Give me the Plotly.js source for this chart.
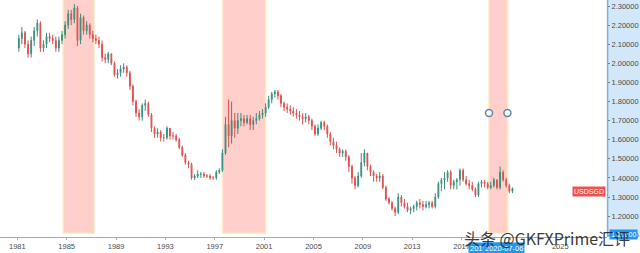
<!DOCTYPE html>
<html><head><meta charset="utf-8">
<script src="https://cdn.plot.ly/plotly-3.0.1.min.js"></script>
<style>html,body{margin:0;padding:0;background:#fff;}#chart{width:640px;height:253px;}</style>
</head><body><div id="chart"></div>
<script>
// Quarterly USDSGD candles, 1981Q1 .. 2021Q1
const firstYear = 1981;
const opens = [
 2.08,2.13,2.16,2.10, 2.05,2.12,2.17,2.21, 2.08,2.10,2.14,2.13, 2.12,2.08,2.12,2.15,
 2.20,2.26,2.23,2.29, 2.12,2.24,2.17,2.20, 2.15,2.13,2.12,2.10, 2.03,2.02,2.05,2.00,
 1.94,1.95,1.97,1.98, 1.95,1.88,1.80,1.74, 1.72,1.78,1.79,1.73, 1.66,1.63,1.64,1.61,
 1.61,1.66,1.62,1.62, 1.60,1.56,1.52,1.48, 1.47,1.40,1.41,1.42, 1.42,1.41,1.41,1.40,
 1.40,1.43,1.44,1.53, 1.68,1.62,1.70,1.66, 1.70,1.71,1.69,1.71, 1.68,1.70,1.71,1.73,
 1.74,1.77,1.81,1.84, 1.85,1.83,1.79,1.77, 1.76,1.75,1.74,1.73, 1.72,1.71,1.72,1.70,
 1.67,1.63,1.66,1.69, 1.67,1.63,1.59,1.57, 1.55,1.53,1.54,1.51, 1.46,1.40,1.36,1.41,
 1.48,1.53,1.46,1.43, 1.41,1.40,1.41,1.35, 1.29,1.27,1.24,1.22, 1.30,1.27,1.25,1.23,
 1.24,1.25,1.27,1.26, 1.25,1.26,1.27,1.25, 1.30,1.37,1.39,1.40, 1.43,1.36,1.38,1.39,
 1.44,1.39,1.37,1.36, 1.34,1.31,1.37,1.38, 1.37,1.35,1.36,1.39, 1.35,1.43,1.39,1.36,
 1.33];
const highs = [
 2.15,2.19,2.17,2.12, 2.14,2.19,2.23,2.22, 2.12,2.16,2.16,2.15, 2.14,2.14,2.17,2.22,
 2.28,2.28,2.31,2.30, 2.26,2.25,2.22,2.21, 2.17,2.15,2.14,2.12, 2.05,2.06,2.05,2.01,
 1.97,1.99,2.00,1.99, 1.96,1.89,1.81,1.76, 1.79,1.81,1.80,1.74, 1.67,1.66,1.65,1.63,
 1.67,1.66,1.64,1.63, 1.61,1.57,1.53,1.49, 1.48,1.42,1.44,1.43, 1.43,1.42,1.42,1.41,
 1.44,1.45,1.55,1.72, 1.81,1.80,1.74,1.74, 1.74,1.73,1.73,1.73, 1.72,1.74,1.75,1.76,
 1.79,1.83,1.85,1.86, 1.86,1.84,1.80,1.79, 1.78,1.77,1.76,1.75, 1.74,1.74,1.73,1.71,
 1.68,1.68,1.70,1.70, 1.68,1.64,1.61,1.59, 1.56,1.55,1.55,1.52, 1.47,1.41,1.43,1.53,
 1.55,1.53,1.47,1.44, 1.42,1.43,1.42,1.36, 1.30,1.28,1.25,1.32, 1.31,1.29,1.27,1.25,
 1.26,1.28,1.29,1.28, 1.28,1.28,1.28,1.32, 1.38,1.40,1.43,1.44, 1.44,1.39,1.40,1.45,
 1.45,1.41,1.39,1.38, 1.35,1.38,1.39,1.39, 1.38,1.38,1.40,1.39, 1.46,1.44,1.40,1.37,
 1.35];
const lows = [
 2.06,2.10,2.08,2.03, 2.03,2.09,2.14,2.06, 2.06,2.08,2.11,2.10, 2.06,2.06,2.10,2.13,
 2.18,2.20,2.21,2.09, 2.10,2.15,2.15,2.13, 2.11,2.10,2.08,2.01, 2.00,2.00,1.99,1.93,
 1.92,1.93,1.95,1.93, 1.86,1.78,1.72,1.70, 1.70,1.75,1.72,1.64, 1.61,1.61,1.59,1.59,
 1.60,1.60,1.60,1.59, 1.55,1.51,1.47,1.45, 1.39,1.39,1.40,1.40, 1.40,1.40,1.39,1.39,
 1.39,1.42,1.43,1.52, 1.56,1.58,1.61,1.63, 1.67,1.67,1.68,1.65, 1.65,1.68,1.70,1.71,
 1.72,1.76,1.79,1.82, 1.81,1.77,1.75,1.74, 1.73,1.72,1.71,1.70, 1.68,1.69,1.68,1.65,
 1.62,1.62,1.65,1.65, 1.61,1.57,1.55,1.53, 1.51,1.51,1.49,1.43, 1.37,1.34,1.35,1.40,
 1.46,1.44,1.41,1.38, 1.38,1.38,1.34,1.28, 1.26,1.23,1.20,1.21, 1.25,1.24,1.22,1.21,
 1.22,1.23,1.24,1.23, 1.24,1.24,1.24,1.24, 1.29,1.33,1.34,1.38, 1.34,1.34,1.34,1.36,
 1.38,1.36,1.34,1.33, 1.30,1.30,1.35,1.35, 1.34,1.34,1.35,1.34, 1.34,1.38,1.35,1.32,
 1.32];
const closes = [
 2.13,2.16,2.10,2.05, 2.12,2.17,2.21,2.08, 2.10,2.14,2.13,2.12, 2.08,2.12,2.15,2.20,
 2.26,2.23,2.29,2.12, 2.24,2.17,2.20,2.15, 2.13,2.12,2.10,2.03, 2.02,2.05,2.00,1.94,
 1.95,1.97,1.98,1.95, 1.88,1.80,1.74,1.72, 1.78,1.79,1.73,1.66, 1.63,1.64,1.61,1.61,
 1.66,1.62,1.62,1.60, 1.56,1.52,1.48,1.47, 1.40,1.41,1.42,1.42, 1.41,1.41,1.40,1.40,
 1.43,1.44,1.53,1.68, 1.62,1.70,1.66,1.70, 1.71,1.69,1.71,1.68, 1.70,1.71,1.73,1.74,
 1.77,1.81,1.84,1.85, 1.83,1.79,1.77,1.76, 1.75,1.74,1.73,1.72, 1.71,1.72,1.70,1.67,
 1.63,1.66,1.69,1.67, 1.63,1.59,1.57,1.55, 1.53,1.54,1.51,1.46, 1.40,1.36,1.41,1.48,
 1.53,1.46,1.43,1.41, 1.40,1.41,1.35,1.29, 1.27,1.24,1.22,1.30, 1.27,1.25,1.23,1.24,
 1.25,1.27,1.26,1.25, 1.26,1.27,1.25,1.30, 1.37,1.39,1.40,1.43, 1.36,1.38,1.39,1.44,
 1.39,1.37,1.36,1.34, 1.31,1.37,1.38,1.37, 1.35,1.36,1.39,1.35, 1.43,1.39,1.36,1.33,
 1.345];
const symbolName = 'USDSGD';
const lastPrice = 1.327;
const bandStart = ['1984-09-25', '1997-08-25', '2019-03-25'];
const bandEnd   = ['1987-03-20', '2001-02-06', '2020-09-20'];
const handleLevel = 1.74;
const dateLabels = ['2019-03-25', '2020-07-06'];
const watermark = '头条 @GKFXPrime汇评';

// quarter mid-point dates for the candles
const monthsMid = ['02', '05', '08', '11'];
const dates = closes.map((_, i) => (firstYear + Math.floor(i / 4)) + '-' + monthsMid[i % 4] + '-15');

const candles = {
  type: 'candlestick', x: dates, open: opens, high: highs, low: lows, close: closes,
  increasing: {line: {color: '#3a8f80', width: 1}, fillcolor: '#3a8f80'},
  decreasing: {line: {color: '#de5250', width: 1}, fillcolor: '#de5250'},
  whiskerwidth: 0, hoverinfo: 'skip', showlegend: false
};
const handles = {
  type: 'scatter', mode: 'markers', x: [bandStart[2], bandEnd[2]], y: [handleLevel, handleLevel],
  marker: {symbol: 'circle', size: 7, color: '#ffffff', line: {color: '#5b86b8', width: 1.5}},
  hoverinfo: 'skip', showlegend: false
};

const shapes = [];
// right price-scale panel
shapes.push({type: 'rect', xref: 'paper', yref: 'paper', x0: 1, x1: 1.06, y0: 0, y1: 1,
  fillcolor: '#d3e7fa', line: {width: 0}, layer: 'below'});
shapes.push({type: 'line', xref: 'paper', yref: 'paper', x0: 1.001, x1: 1.001, y0: 0, y1: 1,
  line: {color: '#7fb0dd', width: 1.5}, layer: 'above'});
for (let i = 0; i < bandStart.length; i++) {
  shapes.push({type: 'rect', xref: 'x', yref: 'y', x0: bandStart[i], x1: bandEnd[i], y0: 1.111, y1: 2.6,
    fillcolor: 'rgba(255,150,140,0.45)', line: {color: 'rgba(255,225,170,0.55)', width: 2}, layer: 'below'});
}

const annotations = [
  {xref: 'paper', yref: 'y', x: 0.998, y: lastPrice, xanchor: 'right', yanchor: 'middle',
   text: symbolName, showarrow: false, bgcolor: '#ef5350', borderpad: 1,
   font: {family: 'Liberation Sans', size: 7, color: '#ffffff'}},
  {xref: 'x', yref: 'paper', x: dateLabels[0], y: -0.02, xanchor: 'center', yanchor: 'top',
   text: dateLabels[0], showarrow: false, bgcolor: '#2196f3', borderpad: 1,
   font: {family: 'Liberation Sans', size: 7.5, color: '#ffffff'}},
  {xref: 'x', yref: 'paper', x: '2020-06-20', y: -0.02, xanchor: 'center', yanchor: 'top',
   text: dateLabels[1], showarrow: false, bgcolor: '#2196f3', borderpad: 1,
   font: {family: 'Liberation Sans', size: 7.5, color: '#ffffff'}},
  {xref: 'paper', yref: 'y', x: 1.004, y: 1.105, xanchor: 'left', yanchor: 'middle',
   text: '1.10000', showarrow: false, bgcolor: '#2196f3', borderpad: 1,
   font: {family: 'Liberation Sans', size: 7, color: '#ffffff'}},
  {xref: 'paper', yref: 'paper', x: 1.042, y: -0.005, xanchor: 'right', yanchor: 'middle',
   text: watermark, showarrow: false,
   font: {family: 'Noto Sans CJK SC', size: 16, color: 'rgba(35,35,35,0.9)'}}
];

const layout = {
  width: 640, height: 253,
  margin: {l: 0, r: 33, t: 0, b: 16, pad: 0},
  paper_bgcolor: '#ffffff', plot_bgcolor: 'rgba(0,0,0,0)',
  showlegend: false,
  boxgap: 0.6,
  xaxis: {type: 'date', range: ['1979-08-07', '2028-10-15'], rangeslider: {visible: false},
    tick0: '1981-01-01', dtick: 'M48', tickformat: '%Y', showgrid: false, zeroline: false,
    showline: true, linecolor: '#a7a9b0', linewidth: 1, ticks: 'outside', ticklen: 2, tickcolor: '#a7a9b0',
    tickfont: {family: 'Liberation Sans', size: 7.5, color: '#4a4a4a'}, fixedrange: true},
  yaxis: {side: 'right', range: [1.0906, 2.3314], tick0: 1.2, dtick: 0.1, tickformat: '.5f',
    showgrid: false, zeroline: false, showline: false, ticks: 'outside', ticklen: 2, tickcolor: '#777',
    tickfont: {family: 'Liberation Sans', size: 7.5, color: '#4a4a4a'}, fixedrange: true},
  shapes: shapes, annotations: annotations
};

Plotly.newPlot('chart', [candles, handles], layout, {staticPlot: true, displayModeBar: false});
</script></body></html>
